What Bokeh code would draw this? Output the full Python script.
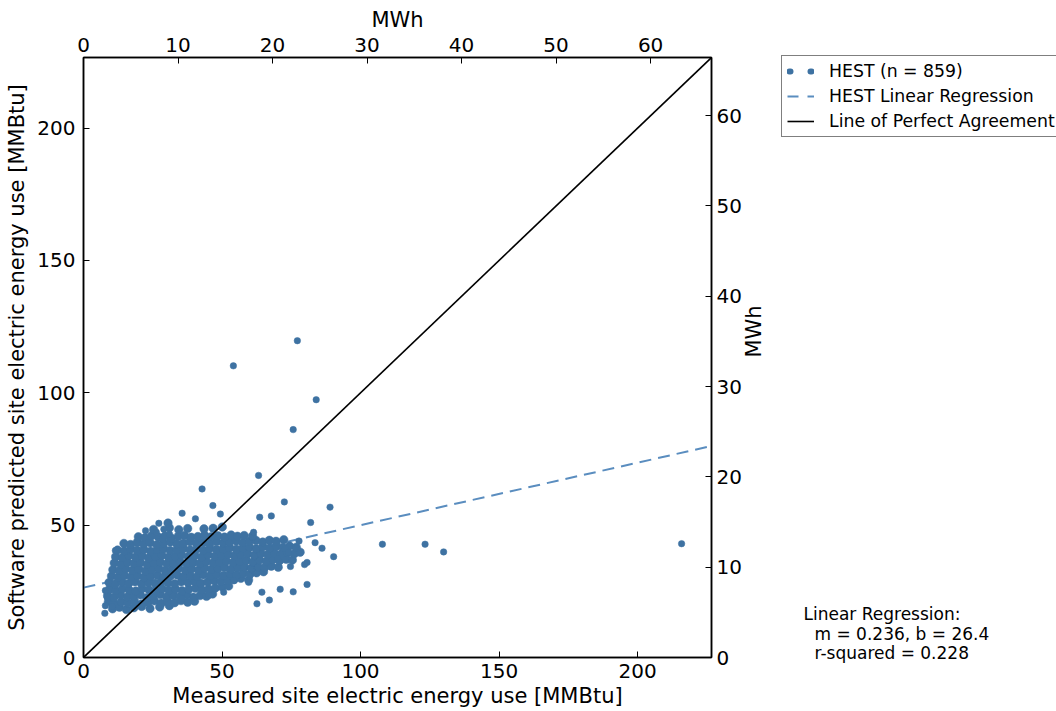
import math
from bokeh.plotting import figure
from bokeh.layouts import row
from bokeh.models import (Range1d, LinearAxis, FixedTicker, Legend, LegendItem, Label)
from bokeh.embed import file_html
from bokeh.resources import INLINE

# ---------------- data ----------------
MMBTU_PER_MWH = 3.412
axis_max = 226.7            # MMBtu, both axes
reg_m = 0.236
reg_b = 26.4
r_squared = 0.228
n_points = 859

mmbtu_ticks = [0, 50, 100, 150, 200]
mwh_ticks = [0, 10, 20, 30, 40, 50, 60]

x_label = "Measured site electric energy use [MMBtu]"
y_label = "Software predicted site electric energy use [MMBtu]"
mwh_label = "MWh"
legend_labels = ["HEST (n = %d)" % n_points, "HEST Linear Regression", "Line of Perfect Agreement"]

# outliers / isolated points
outlier_x = [54.1, 77.2, 84.0, 75.7, 63.2, 42.8, 89.0, 72.5, 46.7, 35.6, 49.4, 63.6, 67.8, 82.0,
             40.4, 61.4, 83.6, 86.1, 90.3, 77.8, 80.7, 79.8, 74.7, 80.7, 71.0, 75.7, 67.1, 62.6,
             64.4, 59.6, 39.8, 45.2, 35.6, 107.9, 123.3, 130.0, 215.9]
outlier_y = [110.2, 119.7, 97.4, 86.1, 68.8, 63.7, 56.8, 58.8, 57.4, 54.5, 54.2, 53.0, 53.5, 51.0,
             52.4, 47.3, 43.4, 41.3, 38.1, 44.0, 35.9, 35.1, 34.4, 27.6, 25.8, 24.8, 21.7, 20.3,
             24.7, 28.4, 22.8, 23.4, 22.3, 42.8, 42.8, 39.9, 43.0]

# edge points of the dense cloud
edge_x = [27.2, 29.0, 22.4, 26.3, 31.0, 23.5, 28.4, 11.5, 11.5, 7.9, 8.5, 10.3, 7.7, 7.9,
          70.0, 72.8, 74.0, 76.5, 54.3, 50.6]
edge_y = [50.7, 48.5, 47.9, 47.3, 46.7, 43.5, 44.8, 40.4, 37.6, 25.3, 22.8, 19.3, 16.7, 19.6,
          37.5, 41.1, 39.8, 41.6, 29.0, 24.7]

# dense cloud, read band by band
cloud_x = [
    10.5, 13.0, 15.5, 18.2, 21.0, 24.0, 27.5, 31.0,
    9.0, 11.2, 13.6, 16.0, 18.4, 20.9, 23.3, 25.6, 28.1, 30.4, 32.9, 35.2, 37.6, 40.1,
    8.7, 11.0, 13.4, 15.8, 18.1, 20.5, 22.8, 25.2, 27.7, 30.0, 32.4, 34.8, 37.3, 39.6, 42.1, 44.4, 46.6,
    9.4, 11.7, 14.1, 16.5, 18.9, 21.2, 23.6, 26.0, 28.4, 30.8, 33.2, 35.6, 38.0, 40.4, 42.8, 45.2, 47.6,
    50.1, 52.4,
    9.2, 11.5, 13.9, 16.3, 18.6, 21.0, 23.4, 25.8, 28.1, 30.5, 32.9, 35.3, 37.7, 40.0, 42.4, 44.8, 47.2,
    49.6, 52.0, 54.4, 56.8, 59.6,
    10.1, 12.4, 14.8, 17.2, 19.5, 21.9, 24.3, 26.7, 29.0, 31.4, 33.8, 36.2, 38.6, 41.0, 43.3, 45.7, 48.1,
    50.5, 52.9, 55.3, 57.7, 60.1, 62.5, 65.0,
    10.6, 12.9, 15.3, 17.7, 20.0, 22.4, 24.8, 27.2, 29.5, 31.9, 34.3, 36.7, 39.1, 41.5, 43.8, 46.2, 48.6,
    51.0, 53.4, 55.8, 58.2, 60.6, 63.0, 65.4, 67.8, 70.3,
    11.1, 13.5, 15.9, 18.2, 20.6, 23.0, 25.4, 27.7, 30.1, 32.5, 34.9, 37.3, 39.7, 42.0, 44.4, 46.8, 49.2,
    51.6, 54.0, 56.4, 58.8, 61.2, 63.6, 66.0, 68.4, 70.8, 73.2, 75.4,
    11.6, 14.0, 16.4, 18.8, 21.2, 23.5, 25.9, 28.3, 30.7, 33.1, 35.4, 37.8, 40.2, 42.6, 45.0, 47.4, 49.8,
    52.2, 54.5, 56.9, 59.3, 61.7, 64.1, 66.5, 68.9, 71.3, 73.7, 76.1, 78.2,
    12.3, 14.7, 17.1, 19.4, 21.8, 24.2, 26.6, 29.0, 31.3, 33.7, 36.1, 38.5, 40.9, 43.3, 45.6, 48.0, 50.4,
    52.8, 55.2, 57.6, 60.0, 62.4, 64.8, 67.2, 69.6, 72.0, 74.4, 76.8,
    14.6, 17.0, 19.4, 21.7, 24.1, 26.5, 28.9, 31.3, 33.7, 36.0, 38.4, 40.8, 43.2, 45.6, 48.0, 50.4, 52.7,
    55.1, 57.5, 59.9, 62.3, 64.7, 67.1, 69.5, 72.3,
    19.8, 22.2, 24.6, 27.0, 29.4, 31.8, 34.2, 36.5, 38.9, 41.3, 43.7, 46.1, 48.5, 50.9, 53.3, 55.6, 58.0,
    61.0,
    25.3, 31.0, 34.4, 37.6, 43.5, 46.8, 50.1, 30.5,
]
cloud_y = [
    18.4, 19.0, 18.1, 18.8, 19.3, 18.5, 19.1, 19.6,
    21.2, 20.4, 21.0, 20.6, 21.3, 20.2, 20.9, 21.4, 20.5, 21.1, 20.7, 21.5, 20.9, 21.3,
    23.4, 22.8, 23.6, 22.9, 23.2, 23.7, 22.6, 23.3, 23.8, 22.9, 23.5, 23.0, 23.7, 22.8, 23.4, 23.1, 24.0,
    25.8, 25.2, 26.0, 25.5, 25.1, 26.1, 25.6, 25.3, 26.0, 25.4, 25.9, 25.2, 25.8, 26.2, 25.5, 25.9, 26.3,
    26.6, 27.0,
    28.3, 27.8, 28.5, 28.0, 28.6, 27.9, 28.4, 28.1, 28.7, 28.2, 27.9, 28.6, 28.3, 28.8, 28.1, 28.5, 29.0,
    28.7, 29.2, 29.5, 29.9, 29.3,
    30.8, 30.3, 31.0, 30.5, 30.9, 30.2, 30.7, 31.1, 30.4, 30.8, 31.2, 30.6, 31.0, 30.5, 31.3, 30.9, 31.4,
    31.0, 31.6, 31.2, 31.8, 31.5, 32.0, 32.4,
    33.2, 32.8, 33.5, 33.0, 33.4, 32.7, 33.3, 33.6, 32.9, 33.2, 33.7, 33.1, 33.5, 33.0, 33.8, 33.3, 33.6,
    34.0, 33.4, 33.9, 34.2, 33.7, 34.3, 34.0, 34.5, 34.1,
    35.7, 35.2, 36.0, 35.5, 35.9, 35.1, 35.8, 36.1, 35.4, 35.7, 36.2, 35.6, 36.0, 35.5, 36.3, 35.8, 36.1,
    36.5, 35.9, 36.4, 36.7, 36.1, 36.8, 36.4, 37.0, 36.6, 37.1, 36.8,
    38.1, 37.7, 38.5, 38.0, 38.4, 37.6, 38.3, 38.6, 37.9, 38.2, 38.7, 38.1, 38.5, 38.0, 38.8, 38.3, 38.6,
    39.0, 38.4, 38.9, 39.2, 38.6, 39.3, 38.9, 39.5, 39.1, 39.6, 39.2, 39.8,
    40.6, 40.2, 41.0, 40.5, 40.9, 40.1, 40.8, 41.1, 40.4, 40.7, 41.2, 40.6, 41.0, 40.5, 41.3, 40.8, 41.1,
    41.5, 40.9, 41.4, 41.7, 41.1, 41.8, 41.4, 42.0, 41.6, 42.1, 41.7,
    43.1, 42.7, 43.5, 43.0, 43.4, 42.6, 43.3, 43.6, 42.9, 43.2, 43.7, 43.1, 43.5, 43.0, 43.8, 43.3, 43.6,
    44.0, 43.4, 43.9, 44.2, 43.6, 44.3, 43.9, 44.5,
    45.6, 45.2, 46.0, 45.5, 45.9, 45.1, 45.8, 46.1, 45.4, 45.7, 46.2, 45.6, 46.0, 45.5, 46.3, 45.8, 46.1,
    45.9,
    48.4, 49.0, 48.3, 48.7, 48.6, 48.8, 49.3, 50.8,
]

measured_sparse = outlier_x + edge_x
predicted_sparse = outlier_y + edge_y
assert len(measured_sparse) == len(predicted_sparse)
assert len(cloud_x) == len(cloud_y)

# ---------------- styling ----------------
FONT = "DejaVu Sans"
DOT = "#3e72a2"
REG = "#5a8dbf"
H = 711
FRAME_TOP, FRAME_BOTTOM = 57, 657
W_MAIN = 781          # main plot incl. right axis
W_SIDE = 1056 - W_MAIN

p = figure(width=W_MAIN, height=H,
           x_range=Range1d(0, axis_max), y_range=Range1d(0, axis_max),
           output_backend="svg", toolbar_location=None,
           min_border_left=83, min_border_right=W_MAIN - 711, min_border_top=FRAME_TOP,
           min_border_bottom=H - FRAME_BOTTOM, x_axis_label=x_label, y_axis_label=y_label)
bottom_axis = p.below[0]
left_axis = p.left[0]
p.extra_x_ranges = {"mwh_x": Range1d(0, axis_max / MMBTU_PER_MWH)}
p.extra_y_ranges = {"mwh_y": Range1d(0, axis_max / MMBTU_PER_MWH)}

top_axis = LinearAxis(x_range_name="mwh_x", axis_label=mwh_label)
right_axis = LinearAxis(y_range_name="mwh_y", axis_label=mwh_label)
p.add_layout(top_axis, "above")
p.add_layout(right_axis, "right")

bottom_axis.ticker = FixedTicker(ticks=mmbtu_ticks)
left_axis.ticker = FixedTicker(ticks=mmbtu_ticks)
top_axis.ticker = FixedTicker(ticks=mwh_ticks)
right_axis.ticker = FixedTicker(ticks=mwh_ticks)

p.grid.visible = False
p.outline_line_color = "black"
p.outline_line_width = 1.5
p.background_fill_color = "white"
p.border_fill_color = "white"

for ax in [bottom_axis, left_axis, top_axis, right_axis]:
    ax.major_tick_in = 6
    ax.major_tick_out = 0
    ax.minor_tick_in = 0
    ax.minor_tick_out = 0
    ax.axis_line_color = "black"
    ax.axis_line_width = 1.5
    ax.major_tick_line_color = "black"
    ax.major_tick_line_width = 1
    ax.major_label_text_font = FONT
    ax.major_label_text_font_size = "20px"
    ax.major_label_text_color = "black"
    ax.axis_label_text_font = FONT
    ax.axis_label_text_font_size = "21px"
    ax.axis_label_text_font_style = "normal"
    ax.axis_label_text_color = "black"

bottom_axis.major_label_standoff = 6
bottom_axis.axis_label_standoff = 3
left_axis.major_label_standoff = 8
left_axis.axis_label_standoff = 5
top_axis.major_label_standoff = 6
top_axis.axis_label_standoff = 3
right_axis.major_label_standoff = 5
right_axis.axis_label_standoff = 9
right_axis.axis_label_orientation = math.pi / 2

# regression line (under the dots)
reg_x = [0, axis_max]
reg_y = [reg_b + reg_m * v for v in reg_x]
p.line(reg_x, reg_y, line_color=REG, line_width=2, line_dash="12 7")

# scatter: dense cloud and isolated points
p.scatter(cloud_x, cloud_y, size=8.5, fill_color=DOT, line_color=DOT, line_width=0.5)
p.scatter(measured_sparse, predicted_sparse, size=6.5, fill_color=DOT, line_color=DOT,
          line_width=0.5)

# perfect agreement
perfect_x = [0, axis_max]
p.line(perfect_x, perfect_x, line_color="black", line_width=1.6)

# ---------------- side panel: legend + regression text ----------------
side = figure(width=W_SIDE, height=H, x_range=Range1d(0, 1), y_range=Range1d(0, 1),
              output_backend="svg", toolbar_location=None,
              min_border=0, min_border_left=0, min_border_right=0,
              min_border_top=0, min_border_bottom=0)
side.axis.visible = False
side.grid.visible = False
side.outline_line_color = None
side.background_fill_color = "white"
side.border_fill_color = "white"

if "frame_align" in side.properties():
    side.frame_align = False
    p.frame_align = False
    side_bottom = H
else:
    side_bottom = FRAME_BOTTOM

# legend-only proxies (no visible marks: NaN coordinates)
nan2 = [float("nan"), float("nan")]
dots_proxy = side.line(x=nan2, y=nan2, line_color=DOT, line_width=6, line_cap="round",
                       line_dash="1 20", line_dash_offset=19)
reg_proxy = side.line(x=nan2, y=nan2, line_color=REG, line_width=2, line_dash="11 9",
                      line_dash_offset=0)
perfect_proxy = side.line(x=nan2, y=nan2, line_color="black", line_width=1.6)

LEG_H = 80
GLYPH_W = 27
legend = Legend(items=[LegendItem(label=legend_labels[0], renderers=[dots_proxy]),
                       LegendItem(label=legend_labels[1], renderers=[reg_proxy]),
                       LegendItem(label=legend_labels[2], renderers=[perfect_proxy])],
                location=(0, side_bottom - FRAME_TOP - LEG_H),
                orientation="vertical",
                label_text_font=FONT, label_text_font_size="17.3px", label_text_color="black",
                glyph_width=GLYPH_W, glyph_height=20, label_height=20,
                label_standoff=828 - W_MAIN - 5 - GLYPH_W,
                padding=5, spacing=5, margin=0,
                border_line_color="black", border_line_width=1.5,
                background_fill_color="white", background_fill_alpha=1.0)
side.add_layout(legend, "center")

ann = [("Linear Regression:", 803 - W_MAIN, side_bottom - 613),
       ("m = %.3f, b = %.1f" % (reg_m, reg_b), 814 - W_MAIN, side_bottom - 633),
       ("r-squared = %.3f" % r_squared, 814 - W_MAIN, side_bottom - 652)]
for txt, lx, ly in ann:
    side.add_layout(Label(x=lx, y=ly, x_units="screen", y_units="screen", text=txt,
                          text_font=FONT, text_font_size="17px", text_color="black",
                          text_baseline="alphabetic", text_align="left"))

layout = row(p, side, spacing=0)
open("out.html", "w").write(file_html(layout, INLINE))
